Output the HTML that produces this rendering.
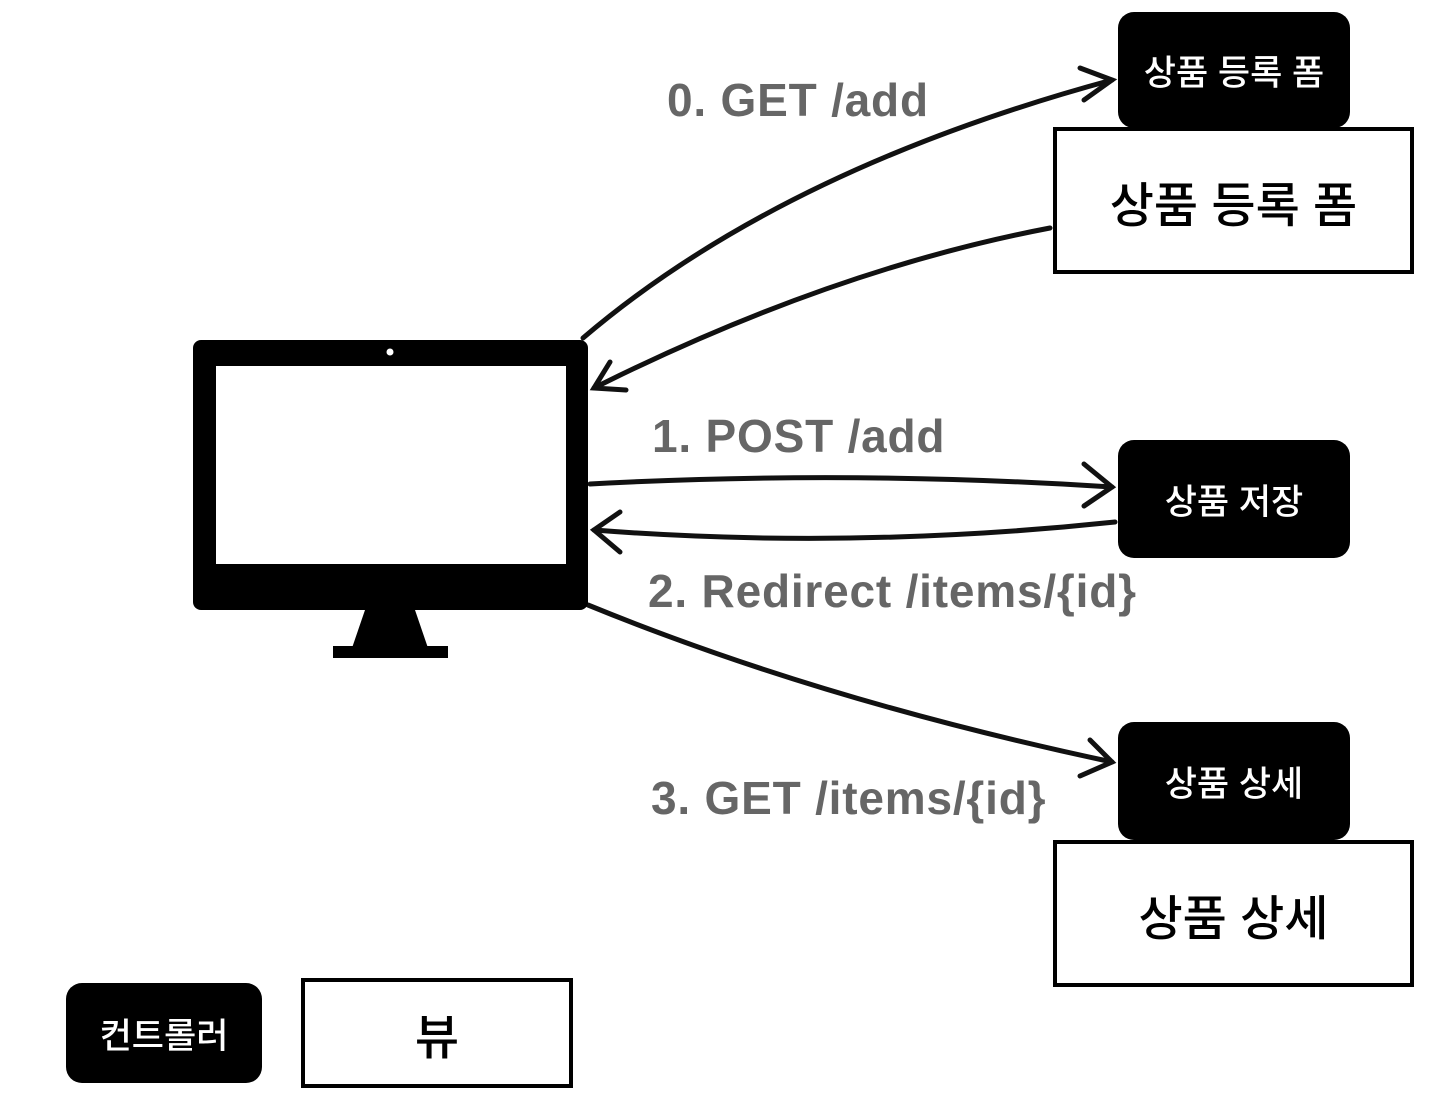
<!DOCTYPE html>
<html><head><meta charset="utf-8"><style>
html,body{margin:0;padding:0;background:#fff;}
body{width:1430px;height:1102px;position:relative;overflow:hidden;font-family:"Liberation Sans","Noto Sans CJK KR",sans-serif;}
.b{position:absolute;background:#000;color:#fff;border-radius:16px;display:flex;align-items:center;justify-content:center;font-size:35px;font-weight:500;}
.w{position:absolute;background:#fff;color:#000;border:4px solid #000;box-sizing:border-box;display:flex;align-items:center;justify-content:center;font-size:48px;font-weight:500;}
.t{position:absolute;color:#666;font-size:46px;font-weight:bold;white-space:nowrap;line-height:1;letter-spacing:0.8px;}
</style></head><body>
<svg width="1430" height="1102" style="position:absolute;left:0;top:0">
<g fill="none" stroke="#111" stroke-width="5" stroke-linecap="round">
<path d="M583 338 Q780 170 1112 80"/>
<path d="M1080 68 L1112 80 L1084 100"/>
<path d="M1050 228 Q830 270 594 388"/>
<path d="M610 362 L594 388 L626 390"/>
<path d="M590 484 Q850 470 1112 487"/>
<path d="M1084 464 L1112 487 L1084 506"/>
<path d="M1115 522 Q850 550 594 530"/>
<path d="M620 512 L594 530 L620 552"/>
<path d="M588 605 Q820 700 1112 762"/>
<path d="M1090 740 L1112 762 L1080 776"/>
</g>
<rect x="193" y="340" width="395" height="270" rx="8" fill="#000"/>
<rect x="216" y="366" width="350" height="198" fill="#fff"/>
<circle cx="390" cy="352" r="3.5" fill="#fff"/>
<polygon points="365,610 415,610 428,648 352,648" fill="#000"/>
<rect x="333" y="646" width="115" height="12" fill="#000"/>
</svg>
<div class="b" style="left:1118px;top:12px;width:232px;height:116px;">상품 등록 폼</div>
<div class="w" style="left:1053px;top:127px;width:361px;height:147px;">상품 등록 폼</div>
<div class="b" style="left:1118px;top:440px;width:232px;height:118px;">상품 저장</div>
<div class="b" style="left:1118px;top:722px;width:232px;height:118px;">상품 상세</div>
<div class="w" style="left:1053px;top:840px;width:361px;height:147px;">상품 상세</div>
<div class="b" style="left:66px;top:983px;width:196px;height:100px;">컨트롤러</div>
<div class="w" style="left:301px;top:978px;width:272px;height:110px;">뷰</div>
<div class="t" style="left:667px;top:77px;">0. GET /add</div>
<div class="t" style="left:652px;top:413px;">1. POST /add</div>
<div class="t" style="left:648px;top:568px;">2. Redirect /items/{id}</div>
<div class="t" style="left:651px;top:775px;">3. GET /items/{id}</div>
</body></html>
